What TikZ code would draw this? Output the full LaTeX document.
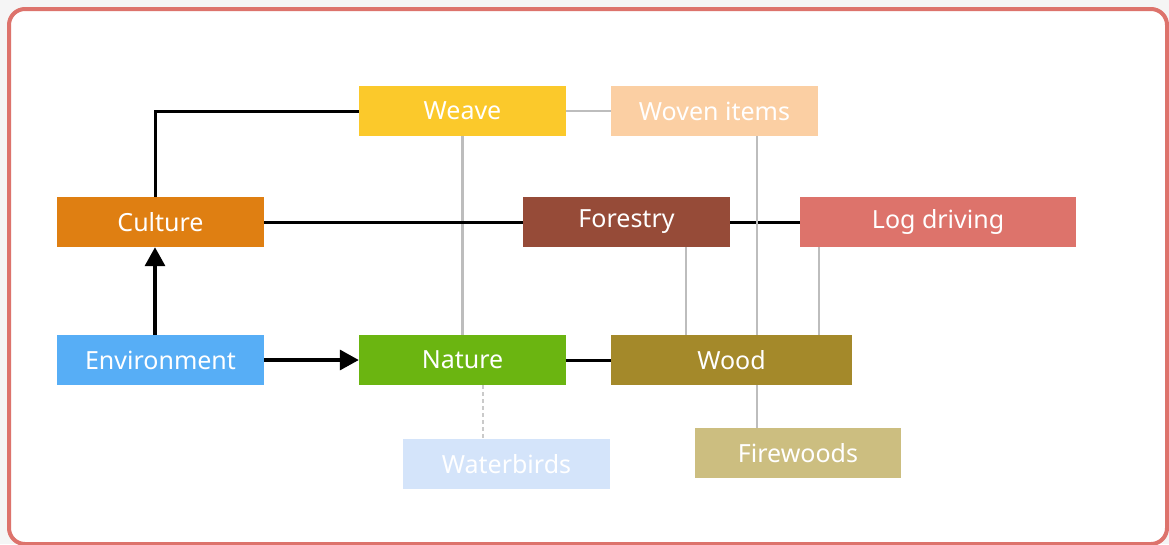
\documentclass[tikz,border=0pt]{standalone}
\usepackage{fontspec}
\setmainfont{Noto Sans}
\usetikzlibrary{arrows.meta,backgrounds}
\definecolor{cweave}{HTML}{FBC92B}
\definecolor{cwoven}{HTML}{FBCFA3}
\definecolor{cculture}{HTML}{DF7F12}
\definecolor{cforestry}{HTML}{964B38}
\definecolor{clog}{HTML}{DD736B}
\definecolor{cenv}{HTML}{57AEF6}
\definecolor{cnature}{HTML}{6BB511}
\definecolor{cwood}{HTML}{A4892A}
\definecolor{cwater}{HTML}{D4E4FA}
\definecolor{cfire}{HTML}{CCBE80}
\definecolor{cborder}{HTML}{DD736C}
\definecolor{cgray}{HTML}{BDBDBD}
\definecolor{cbg}{HTML}{F5F5F5}
\tikzset{
  box/.style={rectangle, inner sep=0pt, minimum height=50pt, text=white,
    font=\fontsize{25}{29}\selectfont},
  blackline/.style={line width=3pt, draw=black},
  arrowline/.style={line width=3.4pt, draw=black, -{Triangle[length=19pt,width=20pt]}},
  grayline/.style={line width=2.5pt, draw=cgray},
  dashline/.style={line width=1.8pt, draw=cgray!80, dashed, dash pattern=on 4pt off 3pt},
}
\begin{document}
\begin{tikzpicture}[x=1pt,y=-1pt]
\useasboundingbox (0,0) rectangle (1169,544);

\node[box, fill=cweave, minimum width=207pt] (weave) at (462.5,111) {Weave};
\node[box, fill=cwoven, minimum width=207pt] (woven) at (714.5,111) {Woven items};
\node[box, fill=cculture, minimum width=207pt] (culture) at (160.5,222) {Culture};
\node[box, fill=cforestry, minimum width=207pt] (forestry) at (626.5,222) {Forestry};
\node[box, fill=clog, minimum width=276pt] (log) at (938,222) {Log driving};
\node[box, fill=cenv, minimum width=207pt] (env) at (160.5,360) {Environment};
\node[box, fill=cnature, minimum width=207pt] (nature) at (462.5,360) {Nature};
\node[box, fill=cwood, minimum width=241pt] (wood) at (731.5,360) {Wood};
\node[box, fill=cwater, minimum width=207pt] (water) at (506.5,464) {Waterbirds};
\node[box, fill=cfire, minimum width=206pt] (fire) at (798,453) {Firewoods};

\begin{scope}[on background layer]
\fill[cbg] (0,0) rectangle (1169,544);
\draw[cborder, fill=white, line width=4pt, rounded corners=16pt] (9,9) rectangle (1167,544);
\draw[blackline] (weave.west) -| ([xshift=-5.5pt]culture.north);
\draw[grayline] (weave.south) -- (nature.north);
\draw[blackline] (culture.east) -- (forestry.west);
\draw[blackline] (forestry.east) -- (log.west);
\draw[blackline] (nature.east) -- (wood.west);
\draw[grayline] (weave.east) -- (woven.west);
\draw[grayline] ([xshift=42.5pt]woven.south) -- ([xshift=42.5pt]woven.south |- fire.north);
\draw[grayline] ([xshift=59.5pt]forestry.south) -- ([xshift=59.5pt]forestry.south |- wood.north);
\draw[grayline] ([xshift=-119pt]log.south) -- ([xshift=-119pt]log.south |- wood.north);
\draw[dashline] ([xshift=20.5pt]nature.south) -- ([xshift=20.5pt]nature.south |- water.north);
\end{scope}
\draw[arrowline] ([xshift=-5.5pt]env.north) -- ([xshift=-5.5pt]culture.south);
\draw[arrowline] (env.east) -- (nature.west);
\end{tikzpicture}
\end{document}
